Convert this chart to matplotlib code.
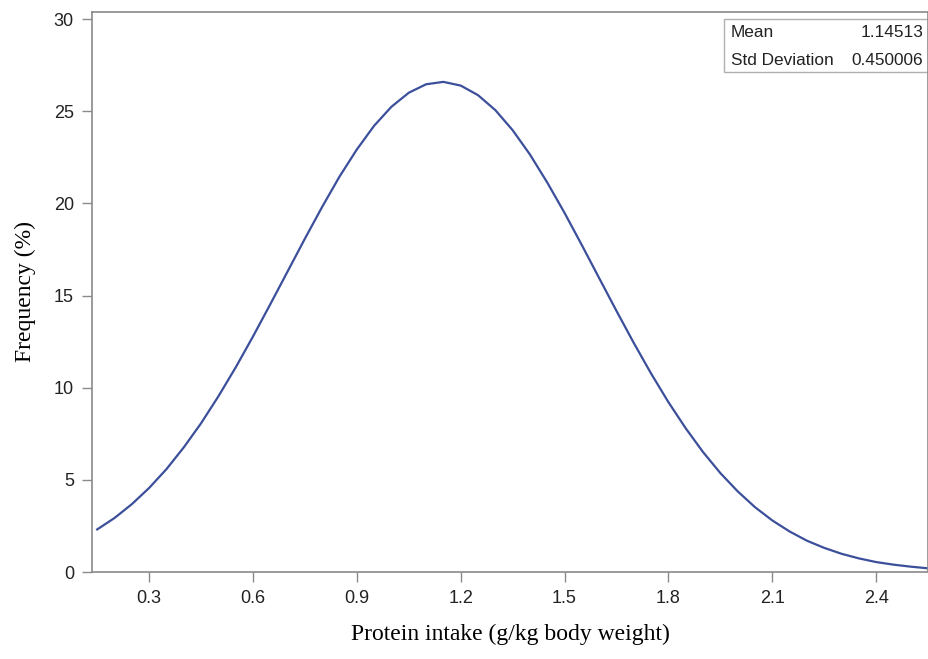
import matplotlib
matplotlib.use('Agg')
import matplotlib.pyplot as plt

# curve (x in g/kg, frequency in %)
intake = [0.15, 0.20, 0.25, 0.30, 0.35, 0.40, 0.45, 0.50, 0.55, 0.60,
          0.65, 0.70, 0.75, 0.80, 0.85, 0.90, 0.95, 1.00, 1.05, 1.10,
          1.15, 1.20, 1.25, 1.30, 1.35, 1.40, 1.45, 1.50, 1.55, 1.60,
          1.65, 1.70, 1.75, 1.80, 1.85, 1.90, 1.95, 2.00, 2.05, 2.10,
          2.15, 2.20, 2.25, 2.30, 2.35, 2.40, 2.45, 2.50, 2.55]
freq = [2.31, 2.93, 3.68, 4.56, 5.58, 6.76, 8.07, 9.53, 11.10, 12.78,
        14.53, 16.31, 18.09, 19.82, 21.46, 22.93, 24.22, 25.25, 26.01, 26.47,
        26.60, 26.40, 25.88, 25.07, 23.98, 22.66, 21.14, 19.49, 17.74, 15.95,
        14.17, 12.43, 10.77, 9.22, 7.80, 6.51, 5.37, 4.38, 3.52, 2.80,
        2.20, 1.70, 1.31, 0.99, 0.74, 0.54, 0.40, 0.29, 0.20]

xticks = [0.3, 0.6, 0.9, 1.2, 1.5, 1.8, 2.1, 2.4]
yticks = [0, 5, 10, 15, 20, 25, 30]
stats = [('Mean', '1.14513'), ('Std Deviation', '0.450006')]

fig = plt.figure(figsize=(9.29, 6.59), dpi=100)
ax = fig.add_axes([0.099, 0.132, 0.9, 0.850])

ax.plot(intake, freq, color='#3c4f9b', lw=1.6)

ax.set_xlim(0.135, 2.55)
ax.set_ylim(0, 30.4)
ax.set_xticks(xticks)
ax.set_xticklabels(['{:.1f}'.format(v) for v in xticks])
ax.set_yticks(yticks)

for s in ax.spines.values():
    s.set_color('#8a8a8a')
    s.set_linewidth(1.2)
ax.tick_params(direction='out', length=7, width=1, color='#8a8a8a',
               labelsize=13, labelcolor='#222222', pad=6)
for lab in ax.get_xticklabels() + ax.get_yticklabels():
    lab.set_family('Liberation Sans')

ax.set_xlabel('Protein intake (g/kg body weight)', family='Liberation Serif',
              fontsize=17, labelpad=12)
ax.set_ylabel('Frequency (%)', family='Liberation Serif', fontsize=17, labelpad=13)

# statistics inset box
box_l, box_b, box_t = 0.756, 0.893, 0.9875
ax.add_patch(plt.Rectangle((box_l, box_b), 0.26, box_t - box_b, transform=ax.transAxes,
                           fill=False, ec='#b0b0b0', lw=1, clip_on=False))
for (name, val), yy in zip(stats, [0.9625, 0.914]):
    ax.text(0.764, yy, name, transform=ax.transAxes, va='center',
            ha='left', fontsize=12.4, family='Liberation Sans', color='#222222')
    ax.text(0.994, yy, val, transform=ax.transAxes, va='center',
            ha='right', fontsize=12.4, family='Liberation Sans', color='#222222')

plt.savefig('out.png', dpi=100)
